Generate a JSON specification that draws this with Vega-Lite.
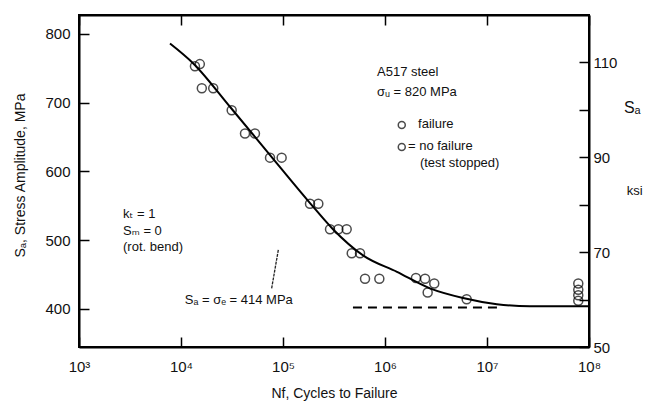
{
  "$schema": "https://vega.github.io/schema/vega-lite/v6.json",
  "width": 510,
  "height": 332,
  "autosize": "none",
  "padding": {"left": 79, "top": 15, "right": 63, "bottom": 58},
  "background": "white",
  "config": {
    "view": {"stroke": "black", "strokeWidth": 2},
    "font": "Liberation Sans, DejaVu Sans",
    "axis": {
      "grid": false,
      "labelFont": "Liberation Sans, DejaVu Sans",
      "titleFont": "Liberation Sans, DejaVu Sans",
      "labelFontSize": 15,
      "titleFontSize": 14,
      "titleFontWeight": "normal",
      "labelColor": "#111",
      "titleColor": "#111",
      "domainColor": "black",
      "domainWidth": 2,
      "tickColor": "black",
      "tickWidth": 1.5,
      "tickSize": -10
    }
  },
  "datasets": {
    "curve": [
      {"N": 7800, "S": 786}, {"N": 13200, "S": 757}, {"N": 30200, "S": 694},
      {"N": 86700, "S": 612}, {"N": 184000, "S": 554}, {"N": 309000, "S": 516},
      {"N": 608000, "S": 478}, {"N": 1310000, "S": 454}, {"N": 2760000, "S": 430},
      {"N": 5820000, "S": 416}, {"N": 12500000, "S": 407}, {"N": 26400000, "S": 404},
      {"N": 100000000, "S": 404}
    ],
    "tests": [
      {"N": 13700, "S": 753}, {"N": 15300, "S": 756}, {"N": 16000, "S": 721},
      {"N": 20700, "S": 721}, {"N": 31400, "S": 689}, {"N": 42400, "S": 655},
      {"N": 53100, "S": 655}, {"N": 74600, "S": 620}, {"N": 97000, "S": 620},
      {"N": 184000, "S": 553}, {"N": 222000, "S": 553}, {"N": 289000, "S": 516},
      {"N": 349000, "S": 516}, {"N": 421000, "S": 516}, {"N": 472000, "S": 481},
      {"N": 569000, "S": 481}, {"N": 637000, "S": 444}, {"N": 880000, "S": 444},
      {"N": 2010000, "S": 445}, {"N": 2470000, "S": 444}, {"N": 3040000, "S": 437},
      {"N": 2620000, "S": 424}, {"N": 6320000, "S": 414},
      {"N": 78500000, "S": 437}, {"N": 78500000, "S": 428},
      {"N": 78500000, "S": 420}, {"N": 78500000, "S": 412}
    ],
    "endurance": [{"N": 485000, "S": 402}, {"N": 13000000, "S": 402}],
    "leader": [{"N": 77400, "S": 430}, {"N": 90000, "S": 486}],
    "legendSym": [{"N": 1460000, "S": 667.5}, {"N": 1460000, "S": 635.5}],
    "notes": [
      {"N": 835000, "S": 744.5, "text": "A517 steel"},
      {"N": 835000, "S": 715.4, "text": "σᵤ = 820 MPa"},
      {"N": 2110000, "S": 669, "text": "failure"},
      {"N": 1680000, "S": 637, "text": "= no failure"},
      {"N": 2200000, "S": 612, "text": "(test stopped)"},
      {"N": 2700, "S": 538, "text": "kₜ = 1"},
      {"N": 2700, "S": 513.4, "text": "Sₘ = 0"},
      {"N": 2700, "S": 490, "text": "(rot. bend)"},
      {"N": 10900, "S": 413, "text": "Sₐ = σₑ = 414 MPa"},
      {"N": 235000000, "S": 571.5, "text": "ksi"}
    ],
    "bigNotes": [
      {"N": 220000000, "S": 692, "text": "Sₐ"}
    ],
    "ksiAxis": [{"N": 1000, "K": 50}]
  },
  "layer": [
    {
      "encoding": {
        "x": {
          "field": "N", "type": "quantitative",
          "scale": {"type": "log", "domain": [1000, 100000000], "nice": false},
          "axis": {
            "orient": "bottom",
            "values": [1000, 10000, 100000, 1000000, 10000000, 100000000],
            "labelExpr": "'10' + ['³','⁴','⁵','⁶','⁷','⁸'][round(log(datum.value)/LN10) - 3]",
            "labelFlush": false,
            "labelOverlap": false,
            "labelPadding": 22,
            "title": "Nf, Cycles to Failure",
            "titleBaseline": "top",
            "titleY": 39
          }
        },
        "y": {
          "field": "S", "type": "quantitative",
          "scale": {"domain": [344.7, 827.4], "nice": false, "zero": false},
          "axis": {
            "orient": "left",
            "values": [400, 500, 600, 700, 800],
            "labelPadding": 19,
            "title": "Sₐ, Stress Amplitude, MPa",
            "titleX": -52,
            "titleY": 160
          }
        }
      },
      "layer": [
        {
          "data": {"name": "curve"},
          "mark": {"type": "line", "interpolate": "monotone", "color": "black", "strokeWidth": 2}
        },
        {
          "data": {"name": "endurance"},
          "mark": {"type": "line", "color": "black", "strokeWidth": 2, "strokeDash": [9, 6]}
        },
        {
          "data": {"name": "leader"},
          "mark": {"type": "line", "color": "#222", "strokeWidth": 1.3, "strokeDash": [3, 1]}
        },
        {
          "data": {"name": "tests"},
          "mark": {"type": "point", "shape": "circle", "filled": false, "color": "black", "size": 81, "strokeWidth": 1.5}
        },
        {
          "data": {"name": "legendSym"},
          "mark": {"type": "point", "shape": "circle", "filled": false, "color": "black", "size": 49, "strokeWidth": 1.5}
        },
        {
          "data": {"name": "notes"},
          "mark": {"type": "text", "align": "left", "baseline": "middle", "fontSize": 13, "color": "#111", "font": "Liberation Sans, DejaVu Sans"},
          "encoding": {"text": {"field": "text"}}
        },
        {
          "data": {"name": "bigNotes"},
          "mark": {"type": "text", "align": "left", "baseline": "middle", "fontSize": 16, "color": "#111", "font": "Liberation Sans, DejaVu Sans"},
          "encoding": {"text": {"field": "text"}}
        }
      ]
    },
    {
      "data": {"name": "ksiAxis"},
      "mark": {"type": "point", "opacity": 0},
      "encoding": {
        "x": {
          "field": "N", "type": "quantitative",
          "scale": {"type": "log", "domain": [1000, 100000000], "nice": false},
          "axis": {
            "orient": "top",
            "values": [1000, 10000, 100000, 1000000, 10000000, 100000000],
            "labels": false,
            "title": null
          }
        },
        "y": {
          "field": "K", "type": "quantitative",
          "scale": {"domain": [50, 120], "nice": false, "zero": false},
          "axis": {
            "orient": "right",
            "values": [50, 60, 70, 80, 90, 100, 110],
            "labelExpr": "datum.value % 20 == 10 ? datum.label : ''",
            "labelPadding": 14,
            "title": null
          }
        }
      }
    }
  ],
  "resolve": {"scale": {"y": "independent"}, "axis": {"x": "independent", "y": "independent"}}
}
